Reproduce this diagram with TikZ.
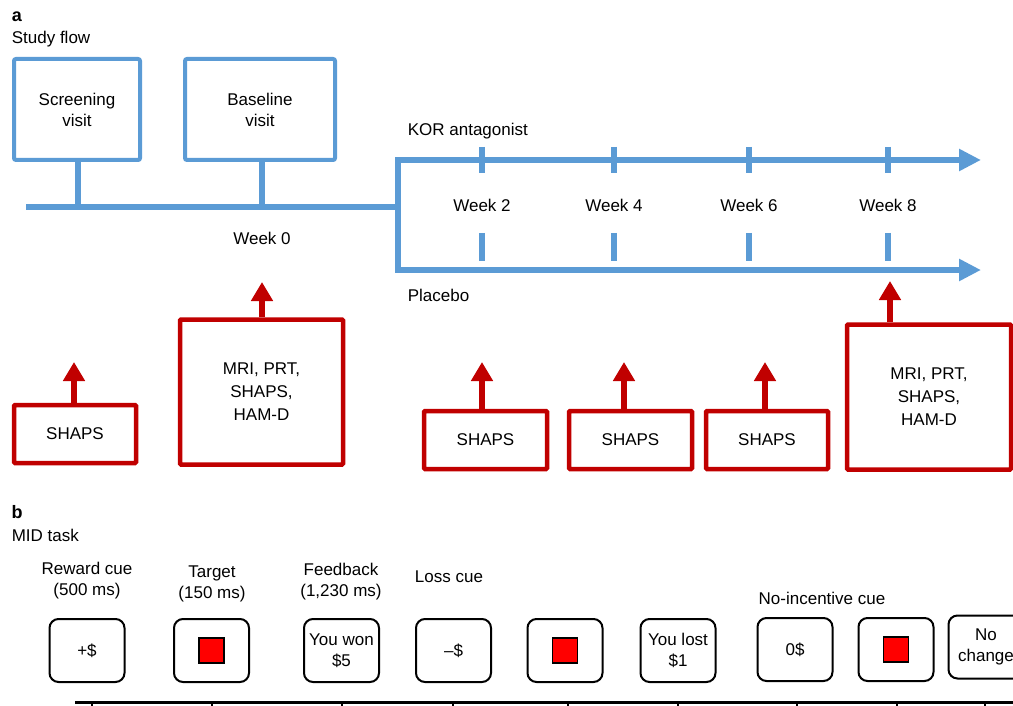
\documentclass[tikz,border=0pt]{standalone}
\usepackage{fontspec}
\setmainfont{Liberation Sans}
\usetikzlibrary{arrows.meta}
\definecolor{flowblue}{HTML}{5B9BD5}
\definecolor{measred}{HTML}{C00000}
\definecolor{tgtred}{HTML}{FF0000}

\begin{document}
\begin{tikzpicture}[x=1pt, y=-1pt, line width=1pt,
    font=\fontsize{17}{21}\selectfont,
    visitbox/.style={draw=flowblue, line width=4pt, rounded corners=2pt, minimum height=101pt, align=center},
    flowline/.style={draw=flowblue, line width=6pt},
    shapsbox/.style={draw=measred, line width=4.5pt, rounded corners=1pt, minimum height=58pt, align=center},
    measbox/.style={draw=measred, line width=4.5pt, rounded corners=1pt, minimum height=145pt, align=center, font=\fontsize{17}{23}\selectfont},
    measarrow/.style={draw=measred, line width=6pt, -{Triangle[width=21pt,length=19pt]}},
    cuebox/.style={draw, line width=2pt, rounded corners=9pt, minimum width=75pt, minimum height=63pt, align=center},
    tgtsq/.style={draw, fill=tgtred, line width=1.5pt, minimum size=25pt, inner sep=0pt},
    panel/.style={font=\fontsize{18}{21}\selectfont\bfseries}]
    \useasboundingbox (0,0) rectangle (1013,706);

    % Panel a: study flow
    \node[panel] (pa) at (17,17) {a};
    \node[anchor=west] (flowttl) at (8,39) {Study flow};

    % Visits and the week 0 time line
    \node[visitbox, minimum width=126pt] (scr) at (77,109.5) {Screening\\visit};
    \node[visitbox, minimum width=150pt] (base) at (260,109.5) {Baseline\\visit};
    \coordinate (t0) at (26,207);
    \coordinate (fork) at (398,207);
    \coordinate (scrT) at (78,207);
    \coordinate (baseT) at (262,207);
    \draw[flowline] (t0) -- (fork);
    \draw[flowline] (scr.south -| scrT) -- (scrT);
    \draw[flowline] (base.south -| baseT) -- (baseT);
    \node (wk0) at (262,238) {Week 0};

    % The two arms
    \coordinate (korE) at (981,160);
    \coordinate (plcE) at (981,270);
    \draw[flowline, -{Triangle[width=21pt,length=22pt]}] (fork) |- (korE);
    \draw[flowline, -{Triangle[width=21pt,length=22pt]}] (fork) |- (plcE);
    \node[anchor=west] (kor) at (404,131) {KOR antagonist};
    \node[anchor=west] (plc) at (404,295) {Placebo};
    \foreach \x/\wk in {482/2, 614/4, 749/6, 888/8} {
        \draw[flowline] (\x,147) -- (\x,173);
        \node (wk\wk) at (\x,205) {Week \wk};
        \draw[flowline] (\x,233) -- (\x,261);
    }

    % Measures
    \node[shapsbox, minimum width=122pt] (shaps0) at (75,434) {SHAPS};
    \node[measbox, minimum width=163pt] (meas0) at (261.5,392) {MRI, PRT,\\SHAPS,\\HAM-D};
    \node[shapsbox, minimum width=123pt] (shaps2) at (485.5,440) {SHAPS};
    \node[shapsbox, minimum width=123pt] (shaps4) at (630.5,440) {SHAPS};
    \node[shapsbox, minimum width=122pt] (shaps6) at (767,440) {SHAPS};
    \node[measbox, minimum width=164pt] (meas8) at (929,397) {MRI, PRT,\\SHAPS,\\HAM-D};
    \coordinate (a0) at (74,362);
    \coordinate (aB) at (262,282);
    \coordinate (a2) at (482,362);
    \coordinate (a4) at (624,362);
    \coordinate (a6) at (765,362);
    \coordinate (a8) at (890,281);
    \draw[measarrow] (shaps0.north -| a0) -- (a0);
    \draw[measarrow] (meas0.north -| aB) -- (aB);
    \draw[measarrow] (shaps2.north -| a2) -- (a2);
    \draw[measarrow] (shaps4.north -| a4) -- (a4);
    \draw[measarrow] (shaps6.north -| a6) -- (a6);
    \draw[measarrow] (meas8.north -| a8) -- (a8);

    % Panel b: MID task
    \node[panel] (pb) at (17,512) {b};
    \node[anchor=west] (midttl) at (8,535) {MID task};
    \node[align=center] (rewlbl) at (87,581) {Reward cue\\(500 ms)};
    \node[align=center] (tgtlbl) at (212,584) {Target\\(150 ms)};
    \node[align=center] (fbklbl) at (341,582) {Feedback\\(1,230 ms)};
    \node (losslbl) at (449,577) {Loss cue};
    \node (nolbl) at (822,598) {No-incentive cue};

    % Trial screens
    \node[cuebox] (plus) at (87,650.5) {+\$};
    \node[cuebox] (tgt1) at (211.5,650.5) {};
    \node[cuebox] (won) at (341.5,650.5) {You won\\\$5};
    \node[cuebox] (minus) at (453.5,650.5) {--\$};
    \node[cuebox] (tgt2) at (565,650.5) {};
    \node[cuebox] (lost) at (678,650.5) {You lost\\\$1};
    \node[cuebox] (zero) at (795,649.5) {0\$};
    \node[cuebox] (tgt3) at (896,649.5) {};
    \node[cuebox] (nochg) at (986,647) {No\\change};
    \node[tgtsq] (sq1) at (tgt1) {};
    \node[tgtsq] (sq2) at (tgt2) {};
    \node[tgtsq] (sq3) at (tgt3) {};

    % Time axis
    \coordinate (ax0) at (75,702);
    \coordinate (ax1) at (1013,702);
    \draw[line width=3pt] (ax0) -- (ax1);
    \foreach \x in {92,212,342,453,568,678,797,897,985}
        \draw[line width=1.5pt] (\x,702) -- (\x,712);
\end{tikzpicture}
\end{document}
